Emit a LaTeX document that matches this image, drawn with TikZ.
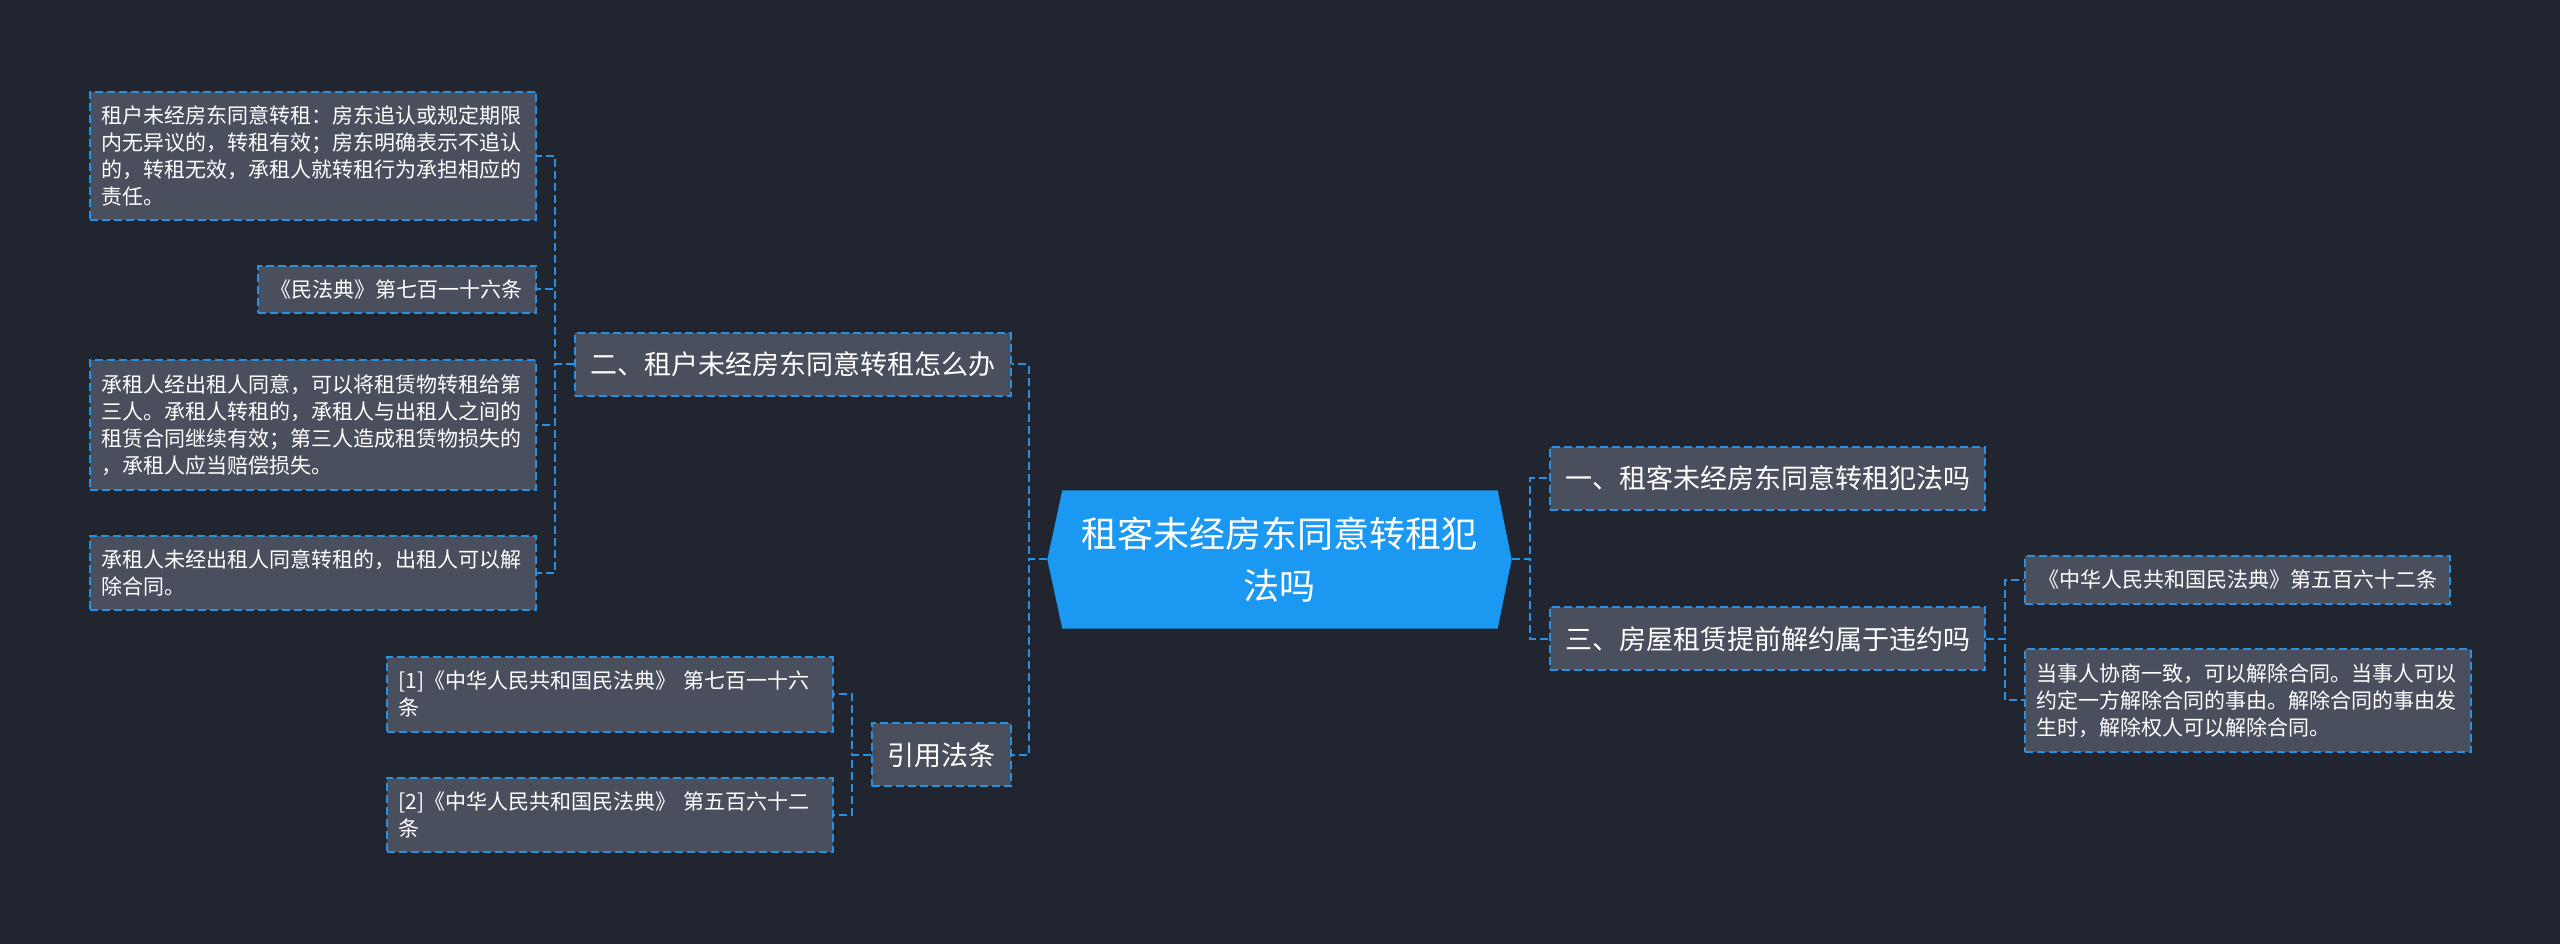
\documentclass[tikz,border=0pt]{standalone}
\usepackage{fontspec}
\usepackage{tikz}
\usetikzlibrary{positioning, backgrounds, calc}

\newfontfamily\cjk{Noto Sans CJK SC}

\definecolor{canvas}{HTML}{21252F}
\definecolor{boxgray}{HTML}{4A4F5E}
\definecolor{linkblue}{HTML}{2A90E2}
\definecolor{rootblue}{HTML}{1A98F2}

\begin{document}
\begin{tikzpicture}[
    dashline/.style={draw=linkblue, line width=0.6pt, dash pattern=on 2.4pt off 1.2pt},
    box/.style={rectangle, dashline, fill=boxgray, text=white},
    topic/.style={box, font=\cjk\fontsize{8.1pt}{10pt}\selectfont, inner xsep=4.6pt, inner ysep=0pt, minimum height=18.9pt},
    leaf/.style={box, font=\cjk\fontsize{6.3pt}{8.1pt}\selectfont, align=left, inner xsep=3.9pt, inner ysep=4.2pt},
    wide/.style={leaf, text width=127pt, inner xsep=3.4pt},
    root/.style={rectangle, inner sep=0pt, minimum width=130.2pt, minimum height=41.1pt, align=center, text=white, font=\cjk\fontsize{10.8pt}{15.6pt}\selectfont},
    link/.style={dashline},
]
    % Central topic
    \node[root] (root) at (0,0) {租客未经房东同意转租犯\\法吗};
    \coordinate (rootL) at ($(root.west)+(-4.5pt,0)$);
    \coordinate (rootR) at ($(root.east)+(4.2pt,0)$);

    % Main branches
    \node[topic, left=15.2pt of root, yshift=58.5pt] (sublet) {二、租户未经房东同意转租怎么办};
    \node[topic, left=15.2pt of root, yshift=-58.6pt] (cite) {引用法条};
    \node[topic, right=15.3pt of root, yshift=24.3pt] (offence) {一、租客未经房东同意转租犯法吗};
    \node[topic, right=15.3pt of root, yshift=-23.85pt] (breach) {三、房屋租赁提前解约属于违约吗};

    % Leaves of branch two
    \node[wide, left=11.1pt of sublet, yshift=62.55pt] (a1) {租户未经房东同意转租：房东追认或规定期限\\内无异议的，转租有效；房东明确表示不追认\\的，转租无效，承租人就转租行为承担相应的\\责任。};
    \node[leaf, left=11.1pt of sublet, yshift=22.5pt] (a2) {《民法典》第七百一十六条};
    \node[wide, left=11.1pt of sublet, yshift=-18.15pt] (a3) {承租人经出租人同意，可以将租赁物转租给第\\三人。承租人转租的，承租人与出租人之间的\\租赁合同继续有效；第三人造成租赁物损失的\\，承租人应当赔偿损失。};
    \node[wide, left=11.1pt of sublet, yshift=-62.55pt] (a4) {承租人未经出租人同意转租的，出租人可以解\\除合同。};

    % Cited articles
    \node[wide, left=11.1pt of cite, yshift=18.15pt] (e1) {[1]《中华人民共和国民法典》 第七百一十六\\条};
    \node[wide, left=11.1pt of cite, yshift=-18pt] (e2) {[2]《中华人民共和国民法典》 第五百六十二\\条};

    % Leaves of branch three
    \node[leaf, right=11.4pt of breach, yshift=17.7pt] (d1) {《中华人民共和国民法典》第五百六十二条};
    \node[wide, right=11.4pt of breach, yshift=-18.45pt] (d2) {当事人协商一致，可以解除合同。当事人可以\\约定一方解除合同的事由。解除合同的事由发\\生时，解除权人可以解除合同。};

    % Connectors
    \draw[link] (rootL) -- ++(-5.5pt,0) |- (sublet.east);
    \draw[link] (rootL) -- ++(-5.5pt,0) |- (cite.east);
    \draw[link] (rootR) -- ++(5.55pt,0) |- (offence.west);
    \draw[link] (rootR) -- ++(5.55pt,0) |- (breach.west);
    \draw[link] (sublet.west) -- ++(-5.55pt,0) |- (a1.east);
    \draw[link] (sublet.west) -- ++(-5.55pt,0) |- (a2.east);
    \draw[link] (sublet.west) -- ++(-5.55pt,0) |- (a3.east);
    \draw[link] (sublet.west) -- ++(-5.55pt,0) |- (a4.east);
    \draw[link] (cite.west) -- ++(-5.55pt,0) |- (e1.east);
    \draw[link] (cite.west) -- ++(-5.55pt,0) |- (e2.east);
    \draw[link] (breach.east) -- ++(5.7pt,0) |- (d1.west);
    \draw[link] (breach.east) -- ++(5.7pt,0) |- (d2.west);

    % Canvas and central shape
    \begin{scope}[on background layer]
        \fill[canvas] (-384pt,167.85pt) rectangle (384pt,-115.35pt);
        \fill[rootblue] (root.north west) -- (root.north east) -- (rootR) -- (root.south east) -- (root.south west) -- (rootL) -- cycle;
    \end{scope}
\end{tikzpicture}
\end{document}
